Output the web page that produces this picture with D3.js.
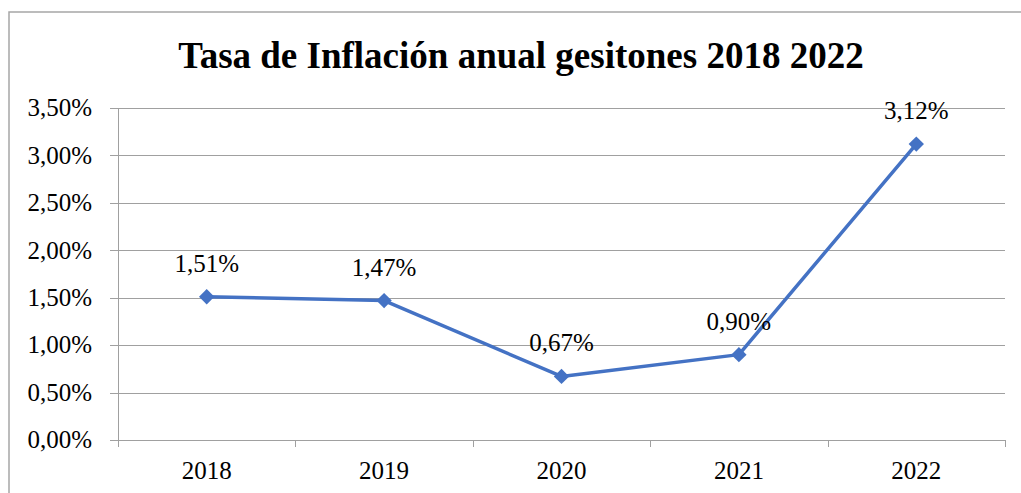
<!DOCTYPE html>
<html>
<head>
<meta charset="utf-8">
<script src="https://cdn.jsdelivr.net/npm/d3@7"></script>
<style>
  html, body { margin: 0; padding: 0; background: #fff; }
  svg { display: block; }
  text { font-family: "Liberation Serif", "Times New Roman", serif; fill: #000; }
</style>
</head>
<body>
<div id="chart"></div>
<script>
var years = ["2018", "2019", "2020", "2021", "2022"];
var inflation = [1.51, 1.47, 0.67, 0.90, 3.12];
var yTicks = [0, 0.5, 1, 1.5, 2, 2.5, 3, 3.5];
var title = "Tasa de Inflación anual gesitones 2018 2022";

var width = 1021, height = 493;
var margin = { left: 118, right: 16, top: 108, bottom: 53 };

var fmt = function(v) { return v.toFixed(2).replace(".", ",") + "%"; };

var svg = d3.select("#chart").append("svg")
  .attr("width", width)
  .attr("height", height);

// outer chart border (chart is cropped on the right and bottom)
svg.append("rect")
  .attr("x", 9).attr("y", 12)
  .attr("width", 1040).attr("height", 520)
  .attr("fill", "none")
  .attr("stroke", "#a6a6a6")
  .attr("stroke-width", 1.5);

svg.append("text")
  .attr("x", 521)
  .attr("y", 68)
  .attr("text-anchor", "middle")
  .style("font-size", "37px")
  .style("font-weight", "bold")
  .text(title);

var x = d3.scaleBand()
  .domain(years)
  .range([margin.left, width - margin.right]);

var y = d3.scaleLinear()
  .domain([0, 3.5])
  .range([height - margin.bottom, margin.top]);

// gridlines
svg.append("g")
  .selectAll("line")
  .data(yTicks)
  .enter().append("line")
  .attr("x1", margin.left - 8)
  .attr("x2", width - margin.right)
  .attr("y1", function(d) { return Math.round(y(d)) + 0.5; })
  .attr("y2", function(d) { return Math.round(y(d)) + 0.5; })
  .attr("stroke", "#a0a0a0")
  .attr("stroke-width", 1);

// y labels
svg.append("g")
  .selectAll("text")
  .data(yTicks)
  .enter().append("text")
  .attr("x", 92)
  .attr("y", function(d) { return y(d); })
  .attr("dy", "0.33em")
  .attr("text-anchor", "end")
  .style("font-size", "25px")
  .text(fmt);

// y axis line
svg.append("line")
  .attr("x1", margin.left + 0.5).attr("x2", margin.left + 0.5)
  .attr("y1", y(3.5)).attr("y2", y(0) + 7)
  .attr("stroke", "#a0a0a0");

// x category ticks
var bounds = years.map(function(d) { return x(d) + x.bandwidth(); });
svg.append("g")
  .selectAll("line")
  .data(bounds)
  .enter().append("line")
  .attr("x1", function(d) { return Math.round(d) + 0.5; })
  .attr("x2", function(d) { return Math.round(d) + 0.5; })
  .attr("y1", y(0))
  .attr("y2", y(0) + 7)
  .attr("stroke", "#a0a0a0");

svg.append("g")
  .selectAll("text")
  .data(years)
  .enter().append("text")
  .attr("x", function(d) { return x(d) + x.bandwidth() / 2; })
  .attr("y", 479)
  .attr("text-anchor", "middle")
  .style("font-size", "25px")
  .text(function(d) { return d; });

// line series
var pts = years.map(function(d, i) { return { year: d, value: inflation[i] }; });
var line = d3.line()
  .x(function(d) { return x(d.year) + x.bandwidth() / 2; })
  .y(function(d) { return y(d.value); });

svg.append("path")
  .datum(pts)
  .attr("d", line)
  .attr("fill", "none")
  .attr("stroke", "#4472c4")
  .attr("stroke-width", 3.5)
  .attr("stroke-linejoin", "round");

svg.append("g")
  .selectAll("path")
  .data(pts)
  .enter().append("path")
  .attr("d", d3.symbol().type(d3.symbolDiamond2).size(150))
  .attr("transform", function(d) {
    return "translate(" + (x(d.year) + x.bandwidth() / 2) + "," + y(d.value) + ")";
  })
  .attr("fill", "#4472c4");

svg.append("g")
  .selectAll("text")
  .data(pts)
  .enter().append("text")
  .attr("x", function(d) { return x(d.year) + x.bandwidth() / 2; })
  .attr("y", function(d) { return y(d.value) - 25; })
  .attr("text-anchor", "middle")
  .style("font-size", "25px")
  .text(function(d) { return fmt(d.value); });
</script>
</body>
</html>
